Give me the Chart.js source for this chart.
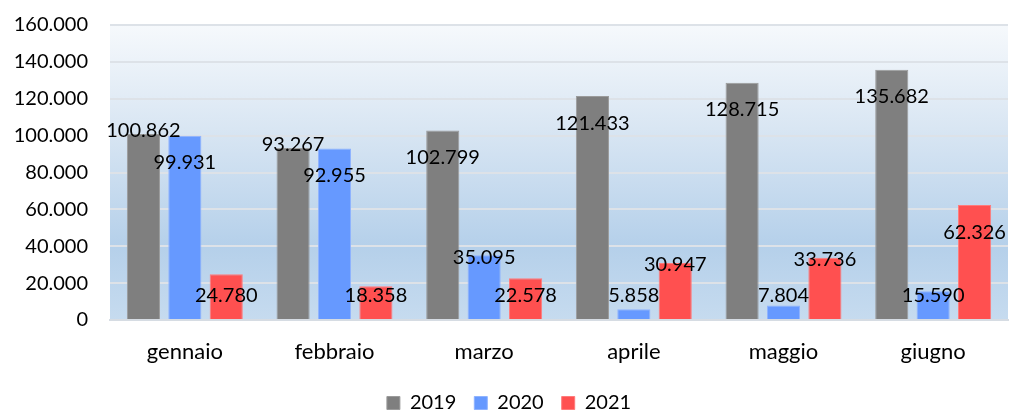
<!DOCTYPE html>
<html>
<head>
<meta charset="utf-8">
<script src="https://cdn.jsdelivr.net/npm/chart.js@4/dist/chart.umd.min.js"></script>
<style>
  html, body { margin: 0; padding: 0; background: #ffffff; }
  #wrap { width: 1010px; height: 412px; }
</style>
</head>
<body>
<div id="wrap"><canvas id="grafico"></canvas></div>
<script>
// dati
const mesi = ['gennaio', 'febbraio', 'marzo', 'aprile', 'maggio', 'giugno'];
const valori2019 = [100862, 93267, 102799, 121433, 128715, 135682];
const valori2020 = [99931, 92955, 35095, 5858, 7804, 15590];
const valori2021 = [24780, 18358, 22578, 30947, 33736, 62326];

// formato italiano: punto come separatore delle migliaia
function formataValor(valor) {
    return Math.round(valor).toString().replace(/\B(?=(\d{3})+(?!\d))/g, ".");
}

const FONT = 'Lato, "Open Sans", sans-serif';

// sfondo sfumato dell'area del grafico
const sfondoPlugin = {
    id: 'sfondo',
    afterInit(chart) {
        // la legenda occupa meno spazio in altezza (è tagliata dal bordo come nell'originale)
        const legenda = chart.legend;
        if (legenda) {
            const fitOriginale = legenda.fit;
            legenda.fit = function () {
                fitOriginale.call(this);
                this.height = 37;
            };
        }
    },
    beforeDraw(chart) {
        const { ctx, chartArea } = chart;
        const g = ctx.createLinearGradient(0, chartArea.top, 0, chartArea.bottom);
        g.addColorStop(0, '#f6f9fc');
        g.addColorStop(0.35, '#d9e6f3');
        g.addColorStop(0.75, '#b5d0ea');
        g.addColorStop(1, '#c6dbef');
        ctx.save();
        ctx.fillStyle = g;
        ctx.fillRect(chartArea.left, chartArea.top, chartArea.right - chartArea.left, chartArea.bottom - chartArea.top);
        ctx.restore();
    }
};

// etichette dei valori, posizionate più o meno come nell'originale
const etichettePlugin = {
    id: 'etichette',
    afterDatasetsDraw(chart) {
        const { ctx } = chart;
        ctx.save();
        ctx.font = '20px ' + FONT;
        ctx.fillStyle = '#000000';
        ctx.textAlign = 'center';
        ctx.textBaseline = 'middle';

        const posizioni = [];
        chart.data.datasets.forEach((ds, i) => {
            const meta = chart.getDatasetMeta(i);
            posizioni[i] = meta.data.map((bar, j) => {
                const h = bar.base - bar.y;
                let y;
                if (h >= 100) {
                    y = bar.y + 27;          // dentro la barra, in alto
                } else if (h >= 50) {
                    y = bar.y + 2;
                } else {
                    y = bar.base - 23;
                }
                const testo = formataValor(ds.data[j]);
                const w = ctx.measureText(testo).width;
                return { x: bar.x, y: y, w: w, testo: testo, top: bar.y };
            });
        });

        // se l'etichetta si sovrappone a quella della serie successiva, va sul bordo della barra
        for (let i = 0; i < posizioni.length - 1; i++) {
            posizioni[i].forEach((p, j) => {
                const q = posizioni[i + 1][j];
                const sovrapX = Math.abs(p.x - q.x) < (p.w + q.w) / 2;
                const sovrapY = Math.abs(p.y - q.y) < 20;
                if (sovrapX && sovrapY) {
                    p.y = p.top - 3;
                }
            });
        }

        posizioni.forEach(serie => serie.forEach(p => ctx.fillText(p.testo, p.x, p.y)));
        ctx.restore();
    }
};

const grafico = new Chart(document.getElementById('grafico'), {
    type: 'bar',
    data: {
        labels: mesi,
        datasets: [
            {
                label: '2019',
                data: valori2019,
                backgroundColor: '#7f7f7f',
                borderColor: '#9b9b9b',
                borderWidth: 1
            },
            {
                label: '2020',
                data: valori2020,
                backgroundColor: '#6699ff',
                borderColor: '#8fb3ff',
                borderWidth: 1
            },
            {
                label: '2021',
                data: valori2021,
                backgroundColor: '#ff5050',
                borderColor: '#ff7b7b',
                borderWidth: 1
            }
        ]
    },
    options: {
        responsive: true,
        maintainAspectRatio: false,
        animation: false,
        categoryPercentage: 0.83,
        barPercentage: 0.8,
        layout: {
            padding: { left: 10, right: 2, top: 25, bottom: 0 }
        },
        plugins: {
            legend: {
                position: 'bottom',
                labels: {
                    boxWidth: 13,
                    boxHeight: 13,
                    padding: 18,
                    color: '#000000',
                    font: { family: FONT, size: 20 }
                }
            },
            tooltip: { enabled: false }
        },
        scales: {
            x: {
                grid: { display: false, drawTicks: false },
                border: { display: true, color: '#d6dce3', width: 2 },
                ticks: {
                    padding: 19,
                    color: '#000000',
                    font: { family: FONT, size: 22 }
                },
                afterFit(scale) {
                    scale.height = 55;
                }
            },
            y: {
                min: 0,
                max: 160000,
                ticks: {
                    stepSize: 20000,
                    padding: 22,
                    color: '#000000',
                    font: { family: FONT, size: 20 },
                    callback: (v) => formataValor(v)
                },
                grid: { color: '#dde2e8', lineWidth: 2, drawTicks: false },
                border: { display: false },
                afterFit(scale) {
                    scale.width = 100;
                    scale.paddingTop = 0;
                    scale.paddingBottom = 0;
                }
            }
        }
    },
    plugins: [sfondoPlugin, etichettePlugin]
});
</script>
</body>
</html>
